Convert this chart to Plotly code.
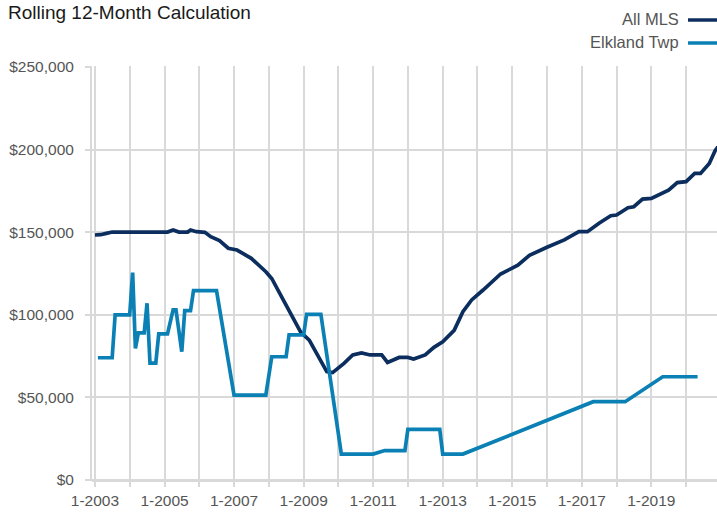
import plotly.graph_objects as go

# ---- data ----
mls_dates = ["2003-01", "2003-03", "2003-05", "2003-07", "2005-02", "2005-04", "2005-06",
             "2005-09", "2005-10", "2005-12", "2006-03", "2006-05", "2006-08", "2006-11",
             "2007-02", "2007-04", "2007-07", "2007-12", "2008-02", "2008-06", "2008-12",
             "2009-03", "2009-09", "2009-11", "2010-01", "2010-03", "2010-06", "2010-09",
             "2010-12", "2011-04", "2011-06", "2011-10", "2012-01", "2012-03", "2012-07",
             "2012-10", "2013-01", "2013-04", "2013-05", "2013-08", "2013-11", "2014-03",
             "2014-09", "2015-03", "2015-07", "2016-01", "2016-07", "2016-12", "2017-03",
             "2017-07", "2017-11", "2018-01", "2018-05", "2018-07", "2018-10", "2019-01",
             "2019-07", "2019-10", "2020-01", "2020-04", "2020-06", "2020-09", "2020-11",
             "2020-12"]
mls_values = [148300, 148500, 149300, 150100, 150100, 151300, 150100,
              150100, 151300, 150300, 149900, 147300, 144900, 140300,
              139200, 137200, 134200, 126100, 122000, 109000, 89500,
              84700, 65600, 65000, 67600, 70600, 75700, 76900,
              75700, 75700, 71200, 74200, 74200, 73200, 75700,
              80300, 83700, 88800, 90600, 101900, 109000, 115000,
              124700, 130000, 136000, 140900, 145300, 150300, 150300,
              155400, 160000, 160400, 164800, 165400, 170000, 170500,
              175500, 180000, 180600, 185600, 185600, 191600, 199300,
              201700]

elk_dates = ["2003-02", "2003-07", "2003-08", "2004-01", "2004-02", "2004-03", "2004-04",
             "2004-06", "2004-07", "2004-08", "2004-10", "2004-11", "2005-02", "2005-04",
             "2005-05", "2005-07", "2005-08", "2005-10", "2005-11", "2006-07", "2007-01",
             "2007-12", "2008-02", "2008-07", "2008-08", "2009-01", "2009-02", "2009-07",
             "2010-02", "2011-01", "2011-05", "2011-12", "2012-01", "2012-12", "2013-01",
             "2013-08", "2017-05", "2018-04", "2019-05", "2020-05"]
elk_values = [74000, 74000, 100000, 100000, 125500, 79700, 89000,
              89000, 107000, 70800, 70800, 88400, 88400, 103000,
              103000, 77700, 102500, 102500, 114600, 114600, 51400,
              51400, 74600, 74600, 87800, 87800, 100300, 100300,
              15700, 15700, 17800, 17800, 30700, 30700, 15700,
              15700, 47400, 47400, 62500, 62500]

series_names = ["All MLS", "Elkland Twp"]
series_colors = ["#0c2e5e", "#0b80b5"]
y_ticks = [0, 50000, 100000, 150000, 200000, 250000]
y_tick_labels = ["$0", "$50,000", "$100,000", "$150,000", "$200,000", "$250,000"]
title_text = "Rolling 12-Month Calculation"

FONT = "Liberation Sans, Arial, sans-serif"
GRID = "#d9d9d9"
W, H = 717, 515
L, R, T, B = 92, 0, 66, 34
PW, PH = W - L - R, H - T - B


def px_x(px):
    return (px - L) / PW


def px_y(py):
    return (H - B - py) / PH


fig = go.Figure()
fig.add_trace(go.Scatter(x=mls_dates, y=mls_values, mode="lines", name=series_names[0],
                         line=dict(color=series_colors[0], width=3.7), showlegend=False))
fig.add_trace(go.Scatter(x=elk_dates, y=elk_values, mode="lines", name=series_names[1],
                         line=dict(color=series_colors[1], width=3.7), showlegend=False))

# legend drawn as text + line samples (text left of the swatch)
legend_y = [20, 43]
for name, color, ly in zip(series_names, series_colors, legend_y):
    fig.add_annotation(x=px_x(681), y=px_y(ly - 1), xref="paper", yref="paper",
                       text=name, showarrow=False, xanchor="right", yanchor="middle",
                       font=dict(family=FONT, size=16.5, color="#555555"))
    fig.add_shape(type="line", xref="paper", yref="paper",
                  x0=px_x(688), x1=px_x(717), y0=px_y(ly), y1=px_y(ly),
                  line=dict(color=color, width=3.5))

fig.update_layout(
    width=W, height=H,
    margin=dict(l=L, r=R, t=T, b=B),
    paper_bgcolor="white", plot_bgcolor="white",
    title=dict(text=title_text, x=8 / W, xanchor="left", xref="container",
               y=1 - 12 / H, yanchor="middle", yref="container",
               font=dict(family=FONT, size=19, color="#1a1a1a")),
    xaxis=dict(type="date", range=["2002-12-01", "2020-11-21"],
               tick0="2003-01-01", dtick="M24", tickformat="%-m-%Y",
               showgrid=True, gridcolor=GRID, gridwidth=2,
               ticks="outside", ticklen=5, tickcolor=GRID, tickwidth=2,
               minor=dict(dtick="M12", tick0="2003-01-01", showgrid=True,
                          gridcolor=GRID, gridwidth=2, ticks="outside",
                          ticklen=5, tickcolor=GRID, tickwidth=2),
               showline=False, zeroline=False,
               tickfont=dict(family=FONT, size=15.5, color="#555555")),
    yaxis=dict(range=[-600, 250600], tickvals=y_ticks, ticktext=y_tick_labels,
               showgrid=True, gridcolor=GRID, gridwidth=2,
               ticks="outside", ticklen=5, tickcolor=GRID, tickwidth=2,
               ticklabelstandoff=8,
               showline=True, linecolor=GRID, linewidth=2,
               zeroline=True, zerolinecolor=GRID, zerolinewidth=3,
               tickfont=dict(family=FONT, size=15.5, color="#555555")),
)

fig.write_html("out.html", config={"displayModeBar": False},
               post_script="document.body.style.margin='0';")
